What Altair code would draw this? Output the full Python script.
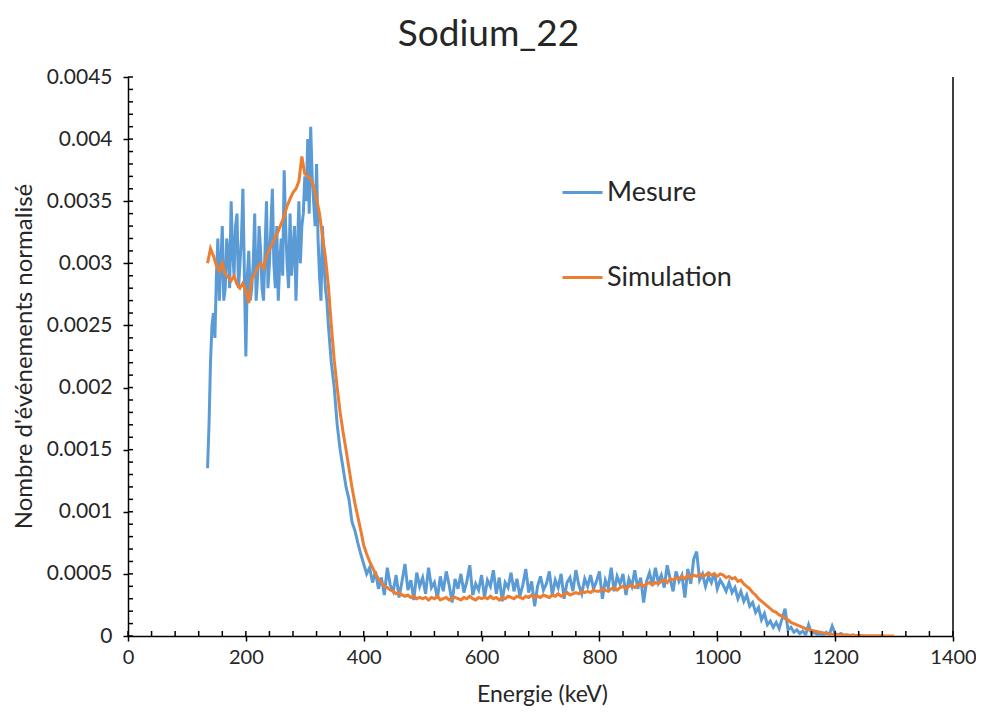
import altair as alt
import pandas as pd

# ---------------- texts ----------------
title_text = "Sodium_22"
x_title = "Energie (keV)"
y_title = "Nombre d'événements normalisé"
series_names = ["Mesure", "Simulation"]
series_colors = ["#5B9BD5", "#ED7D31"]

# ---------------- axes ----------------
x_ticks = [0, 200, 400, 600, 800, 1000, 1200, 1400]
y_ticks = [0, 0.0005, 0.001, 0.0015, 0.002, 0.0025, 0.003, 0.0035, 0.004, 0.0045]
x_minor = [0, 40, 80, 120, 160, 200, 240, 280, 320, 360, 400, 440, 480, 520, 560, 600,
           640, 680, 720, 760, 800, 840, 880, 920, 960, 1000, 1040, 1080, 1120, 1160,
           1200, 1240, 1280, 1320, 1360, 1400]
y_minor = [round(i * 0.0001, 4) for i in range(46)]
x_border = [1400]

# ---------------- data ----------------
# Mesure, part 1: 135-340 keV in 2.5 keV steps
mesure1_start = 135
mesure1_step = 2.5
mesure1_y = [
    0.00135, 0.0017, 0.0022, 0.0025, 0.0026, 0.0024, 0.0029, 0.0032, 0.0027, 0.0030,
    0.0033, 0.0027, 0.0028, 0.0032, 0.0031, 0.0028, 0.0035, 0.0031, 0.0029, 0.0033,
    0.0034, 0.0028, 0.0030, 0.0032, 0.0036, 0.0029, 0.00225, 0.0029, 0.0031, 0.0027,
    0.0028, 0.0030, 0.0034, 0.0027, 0.0029, 0.0033, 0.0031, 0.0028, 0.0027, 0.0031,
    0.0035, 0.0028, 0.0030, 0.0033, 0.0036, 0.0030, 0.0028, 0.0033, 0.0027, 0.0030,
    0.0032, 0.0029, 0.00375, 0.0033, 0.0030, 0.0028, 0.0034, 0.0029, 0.0031, 0.0033,
    0.0027, 0.0031, 0.0035, 0.0030, 0.0033, 0.0034, 0.0037, 0.0035, 0.0040, 0.0034,
    0.0041, 0.0037, 0.0035, 0.0033, 0.0038, 0.0032, 0.0029, 0.0027, 0.0033, 0.0030,
    0.0028, 0.0027, 0.0025,
]
# Mesure, part 2: 345-1240 keV in 5 keV steps
mesure2_start = 345
mesure2_step = 5
mesure2_y = [
    # 345-395
    0.0022, 0.0020, 0.0017, 0.0015, 0.00135, 0.0012, 0.0011, 0.00092, 0.00085, 0.00075, 0.00066,
    # 400-495
    0.00058, 0.0005, 0.00055, 0.00043, 0.00052, 0.00038, 0.00047, 0.00033, 0.00055, 0.00041,
    0.00036, 0.00049, 0.00031, 0.00044, 0.00058, 0.00037, 0.00045, 0.00029, 0.00051, 0.00040,
    # 500-595
    0.00047, 0.00034, 0.00055, 0.00039, 0.00043, 0.00030, 0.00048, 0.00036, 0.00052, 0.00041,
    0.00027, 0.00046, 0.00038, 0.00050, 0.00035, 0.00044, 0.00057, 0.00033, 0.00042, 0.00037,
    # 600-695
    0.00049, 0.00031, 0.00045, 0.00040, 0.00053, 0.00034, 0.00047, 0.00028, 0.00043, 0.00039,
    0.00051, 0.00036, 0.00046, 0.00032, 0.00041, 0.00054, 0.00035, 0.00044, 0.00024, 0.00040,
    # 700-795
    0.00048, 0.00037, 0.00042, 0.00052, 0.00033, 0.00045, 0.00039, 0.00050, 0.00030, 0.00043,
    0.00047, 0.00036, 0.00053, 0.00041, 0.00034, 0.00046, 0.00040, 0.00049, 0.00038, 0.00044,
    # 800-895
    0.00052, 0.00030, 0.00045, 0.00039, 0.00055, 0.00036, 0.00048, 0.00042, 0.00050, 0.00033,
    0.00046, 0.00040, 0.00053, 0.00038, 0.00047, 0.00027, 0.00044, 0.00051, 0.00041, 0.00055,
    # 900-995
    0.00043, 0.00049, 0.00039, 0.00057, 0.00046, 0.00036, 0.00052, 0.00044, 0.00049, 0.00031,
    0.00054, 0.00042, 0.00062, 0.00068, 0.00045, 0.00050, 0.00040, 0.00048, 0.00043, 0.00051,
    # 1000-1095
    0.00038, 0.00045, 0.00041, 0.00036, 0.00043, 0.00035, 0.00039, 0.00030, 0.00036, 0.00028,
    0.00033, 0.00024, 0.00027, 0.00019, 0.00023, 0.00013, 0.00018, 0.00009, 0.00012, 0.00007,
    # 1100-1240
    0.00011, 0.00006, 0.00014, 0.00022, 0.00005, 0.00007, 0.00003, 0.00005, 0.00002, 0.00004,
    0.00001, 0.00009, 0.00002, 0.00003, 0.00001, 0.00002, 0.0, 0.00003, 0.00001, 0.00008,
    0.00002, 0.00001, 0.00002, 0.0, 0.00001, 0.0, 0.00001, 0.0, 0.0,
]

# Simulation: 135-1300 keV in 5 keV steps
sim_start = 135
sim_step = 5
sim_y = [
    # 135-195
    0.00300, 0.00312, 0.00306, 0.00298, 0.00294, 0.00300, 0.00291, 0.00289, 0.00286, 0.00290, 0.00283, 0.00280, 0.00284,
    # 200-295
    0.00278, 0.00268, 0.00288, 0.00291, 0.00297, 0.00300, 0.00296, 0.00306, 0.00311, 0.00316,
    0.00321, 0.00326, 0.00332, 0.00338, 0.00346, 0.00352, 0.00357, 0.00360, 0.00366, 0.00386,
    # 300-395
    0.00372, 0.00370, 0.00368, 0.00362, 0.00352, 0.00340, 0.00322, 0.00305, 0.00282, 0.00250,
    0.00222, 0.00200, 0.00180, 0.00164, 0.00150, 0.00135, 0.00120, 0.00107, 0.00096, 0.00085,
    # 400-495
    0.00073, 0.00066, 0.00060, 0.00055, 0.00050, 0.00046, 0.00043, 0.00040, 0.00039, 0.00037,
    0.00036, 0.00034, 0.00035, 0.00033, 0.00032, 0.00033, 0.00031, 0.00032, 0.00030, 0.00031,
    # 500-595
    0.00030, 0.00031, 0.00029, 0.00031, 0.00030, 0.00032, 0.00029, 0.00030, 0.00031, 0.00029,
    0.00030, 0.00031, 0.00030, 0.00029, 0.00031, 0.00030, 0.00032, 0.00030, 0.00029, 0.00031,
    # 600-695
    0.00030, 0.00031, 0.00030, 0.00032, 0.00030, 0.00031, 0.00029, 0.00031, 0.00030, 0.00032,
    0.00031, 0.00030, 0.00032, 0.00031, 0.00030, 0.00032, 0.00031, 0.00033, 0.00031, 0.00032,
    # 700-795
    0.00031, 0.00033, 0.00032, 0.00031, 0.00033, 0.00032, 0.00034, 0.00032, 0.00033, 0.00035,
    0.00033, 0.00034, 0.00035, 0.00034, 0.00036, 0.00035, 0.00036, 0.00035, 0.00037, 0.00036,
    # 800-895
    0.00036, 0.00038, 0.00037, 0.00036, 0.00038, 0.00039, 0.00037, 0.00039, 0.00040, 0.00038,
    0.00040, 0.00041, 0.00039, 0.00041, 0.00042, 0.00040, 0.00042, 0.00043, 0.00041, 0.00043,
    # 900-995
    0.00042, 0.00044, 0.00045, 0.00043, 0.00046, 0.00045, 0.00047, 0.00046, 0.00048, 0.00046,
    0.00049, 0.00047, 0.00049, 0.00048, 0.00050, 0.00048, 0.00049, 0.00051, 0.00049, 0.00050,
    # 1000-1095
    0.00048, 0.00050, 0.00049, 0.00047, 0.00048, 0.00046, 0.00047, 0.00044, 0.00045, 0.00042,
    0.00040, 0.00038, 0.00035, 0.00033, 0.00030, 0.00028, 0.00026, 0.00024, 0.00022, 0.00020,
    # 1100-1195
    0.00019, 0.00017, 0.00016, 0.00014, 0.00013, 0.00011, 0.00010, 0.00009, 0.00008, 0.00007,
    0.00006, 0.00005, 0.000045, 0.00004, 0.000035, 0.00003, 0.000025, 0.00002, 0.000018, 0.000015,
    # 1200-1300
    0.000012, 0.00001, 0.000009, 0.000008, 0.000007, 0.000006, 0.000005, 0.000005, 0.000004, 0.000004,
    0.000003, 0.000003, 0.000003, 0.000002, 0.000002, 0.000002, 0.000002, 0.000001, 0.000001, 0.000001,
    0.000001,
]

mesure_x = ([mesure1_start + mesure1_step * i for i in range(len(mesure1_y))]
            + [mesure2_start + mesure2_step * i for i in range(len(mesure2_y))])
mesure_y = mesure1_y + mesure2_y
sim_x = [sim_start + sim_step * i for i in range(len(sim_y))]

df = pd.concat([
    pd.DataFrame({"energie": mesure_x, "valeur": mesure_y, "serie": series_names[0]}),
    pd.DataFrame({"energie": sim_x, "valeur": sim_y, "serie": series_names[1]}),
], ignore_index=True)

# ---------------- style ----------------
W, H = 825, 559
FONT = "Lato"
TXT = "#262626"
xscale = alt.Scale(domain=[0, 1400], nice=False, zero=False)
yscale = alt.Scale(domain=[0, 0.0045], nice=False)

x_axis = alt.Axis(values=x_ticks, title=x_title, grid=False,
                  labelExpr="'' + datum.value",
                  labelFont=FONT, labelFontSize=20, labelColor=TXT, labelPadding=6,
                  labelFlush=False,
                  tickSize=5, tickWidth=1.5, tickColor="black",
                  domainColor="black", domainWidth=1.5,
                  titleFont=FONT, titleFontSize=23, titleFontWeight="normal", titleColor=TXT,
                  titleX=414, titleY=58, titleBaseline="middle", titleAlign="center")
y_axis = alt.Axis(values=y_ticks, title=y_title, grid=False,
                  labelExpr="'' + datum.value",
                  labelFont=FONT, labelFontSize=21, labelColor=TXT, labelPadding=11,
                  labelFlush=False,
                  tickSize=5, tickWidth=1.5, tickColor="black",
                  domainColor="black", domainWidth=1.5,
                  titleFont=FONT, titleFontSize=24, titleFontWeight="normal", titleColor=TXT,
                  titleX=-104, titleY=279, titleBaseline="middle", titleAlign="center",
                  titleAngle=270)

lines = alt.Chart(df).mark_line(strokeWidth=3, clip=True).encode(
    x=alt.X("energie:Q", scale=xscale, axis=x_axis, title=x_title),
    y=alt.Y("valeur:Q", scale=yscale, axis=y_axis, title=y_title),
    color=alt.Color("serie:N", scale=alt.Scale(domain=series_names, range=series_colors),
                    legend=alt.Legend(orient="none", legendX=433, legendY=94, title=None,
                                      direction="vertical", symbolType="stroke", symbolSize=1600,
                                      symbolStrokeWidth=3, labelFont=FONT, labelFontSize=27,
                                      labelColor=TXT, labelOffset=3, rowPadding=50, padding=0)),
)

x_in = alt.Chart(pd.DataFrame({"energie": x_minor})).mark_rule(color="black", strokeWidth=1.5).encode(
    x=alt.X("energie:Q", scale=xscale, axis=x_axis, title=x_title),
    y=alt.value(H), y2=alt.value(H - 5),
)
y_in = alt.Chart(pd.DataFrame({"valeur": y_minor})).mark_rule(color="black", strokeWidth=1.5).encode(
    y=alt.Y("valeur:Q", scale=yscale, axis=y_axis, title=y_title),
    x=alt.value(0), x2=alt.value(5),
)
border = alt.Chart(pd.DataFrame({"energie": x_border})).mark_rule(color="black", strokeWidth=1.5).encode(
    x=alt.X("energie:Q", scale=xscale, axis=x_axis, title=x_title),
    y=alt.value(0), y2=alt.value(H),
)

chart = alt.layer(lines, x_in, y_in, border).properties(
    width=W, height=H,
    title=alt.TitleParams(title_text, font=FONT, fontSize=37, fontWeight="normal", color=TXT,
                          anchor="middle", dx=-52, offset=12),
    autosize=alt.AutoSizeParams(type="none"),
    padding={"left": 120, "top": 69, "right": 23, "bottom": 70},
    background="white",
).configure_view(stroke=None)

chart.save("out.html", embed_options={"renderer": "svg", "actions": False})
